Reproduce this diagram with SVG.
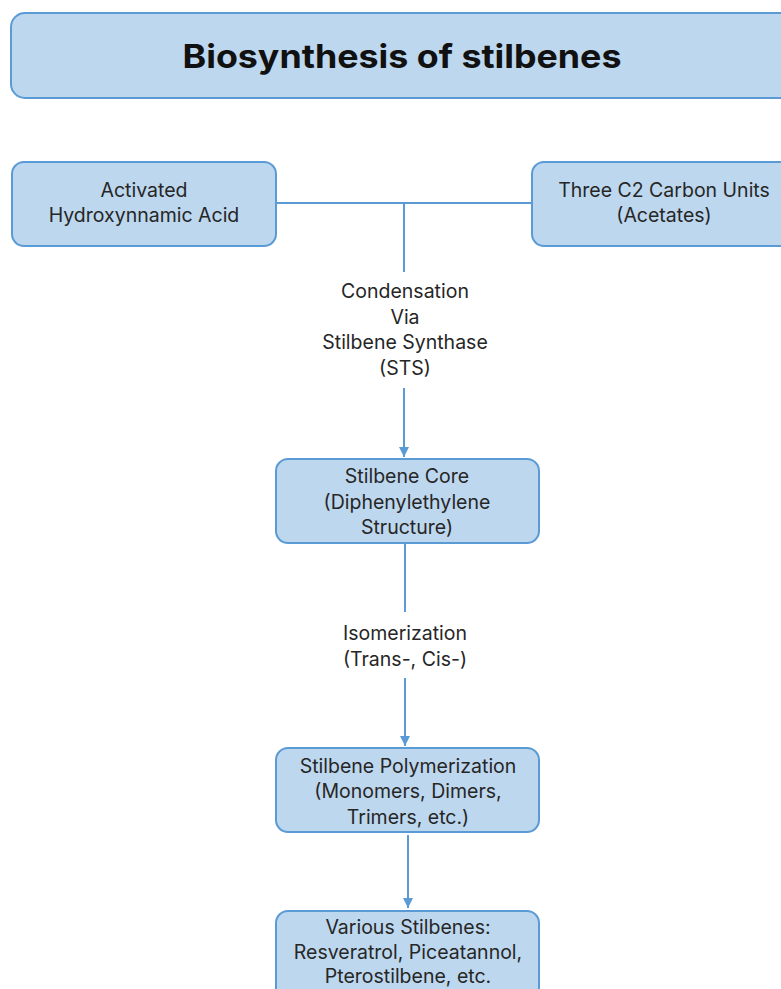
<svg xmlns="http://www.w3.org/2000/svg" width="781" height="989" viewBox="0 0 781 989">
<defs>
<style>
.box{fill:#BDD7EE;stroke:#5B9BD5;stroke-width:2}
.t{font-family:Inter,"Liberation Sans",Arial,sans-serif;font-size:19.5px;fill:#262626;text-anchor:middle}
.title{font-family:Inter,"Liberation Sans",Arial,sans-serif;font-size:33px;font-weight:bold;fill:#111;text-anchor:middle}
.c{fill:none;stroke:#5B9BD5;stroke-width:2}
</style>
<marker id="ah" viewBox="0 0 10 10" refX="10" refY="5" markerWidth="5" markerHeight="5" markerUnits="strokeWidth" orient="auto">
<path d="M0,0 L10,5 L0,10 z" fill="#5B9BD5"/>
</marker>
</defs>
<rect width="781" height="989" fill="#fff"/>
<g id="title">
<rect class="box" x="11" y="13" width="790" height="85" rx="14"/>
<text class="title" x="402" y="68" textLength="439" lengthAdjust="spacingAndGlyphs">Biosynthesis of stilbenes</text>
</g>
<g id="connectors">
<path class="c" d="M276,203 H532"/>
<path class="c" d="M404,203 V272"/>
<path class="c" d="M404,388 V457" marker-end="url(#ah)"/>
<path class="c" d="M405,543 V612"/>
<path class="c" d="M405,678 V746" marker-end="url(#ah)"/>
<path class="c" d="M408,835 V908" marker-end="url(#ah)"/>
</g>
<g id="label-condensation">
<text class="t" x="405" y="298">Condensation</text>
<text class="t" x="405" y="324">Via</text>
<text class="t" x="405" y="349">Stilbene Synthase</text>
<text class="t" x="405" y="375">(STS)</text>
</g>
<g id="label-isomerization">
<text class="t" x="405" y="640">Isomerization</text>
<text class="t" x="405" y="666">(Trans-, Cis-)</text>
</g>
<g id="node-acid">
<rect class="box" x="12" y="162" width="264" height="84" rx="12"/>
<text class="t" x="144" y="197">Activated</text>
<text class="t" x="144" y="222">Hydroxynnamic Acid</text>
</g>
<g id="node-acetates">
<rect class="box" x="532" y="162" width="270" height="84" rx="12"/>
<text class="t" x="664" y="197">Three C2 Carbon Units</text>
<text class="t" x="664" y="222">(Acetates)</text>
</g>
<g id="node-core">
<rect class="box" x="276" y="459" width="263" height="84" rx="12"/>
<text class="t" x="407" y="483">Stilbene Core</text>
<text class="t" x="407" y="509">(Diphenylethylene</text>
<text class="t" x="407" y="534">Structure)</text>
</g>
<g id="node-poly">
<rect class="box" x="276" y="748" width="263" height="84" rx="12"/>
<text class="t" x="408" y="773">Stilbene Polymerization</text>
<text class="t" x="408" y="798">(Monomers, Dimers,</text>
<text class="t" x="408" y="824">Trimers, etc.)</text>
</g>
<g id="node-various">
<rect class="box" x="276" y="911" width="263" height="100" rx="12"/>
<text class="t" x="408" y="934">Various Stilbenes:</text>
<text class="t" x="408" y="959">Resveratrol, Piceatannol,</text>
<text class="t" x="408" y="983">Pterostilbene, etc.</text>
</g>
</svg>
